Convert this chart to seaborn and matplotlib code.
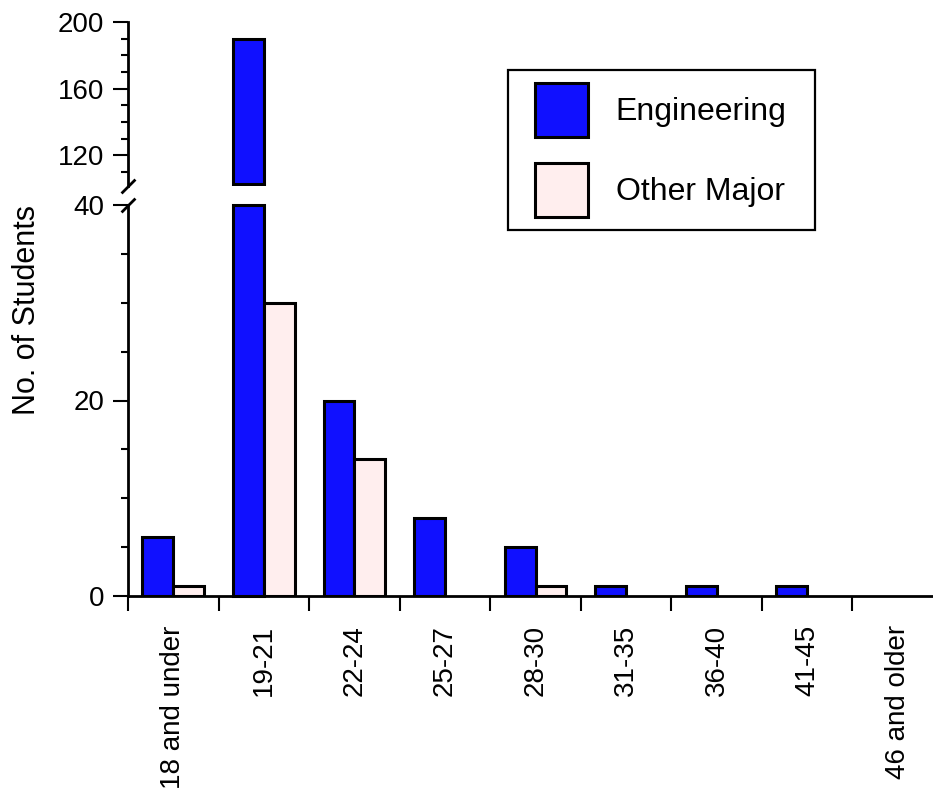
import matplotlib
matplotlib.use("Agg")
import matplotlib.pyplot as plt
import seaborn as sns
import pandas as pd
from matplotlib.ticker import MultipleLocator, FixedLocator
from matplotlib.patches import Patch, Rectangle

categories = ["18 and under", "19-21", "22-24", "25-27", "28-30",
              "31-35", "36-40", "41-45", "46 and older"]
engineering = [6, 190, 20, 8, 5, 1, 1, 1, 0]
other_major = [1, 30, 14, 0, 1, 0, 0, 0, 0]
series_names = ["Engineering", "Other Major"]
colors = {"Engineering": "#1010ff", "Other Major": "#ffeeee"}

df = pd.DataFrame({
    "Age": categories * 2,
    "Count": engineering + other_major,
    "Major": [series_names[0]] * len(categories) + [series_names[1]] * len(categories),
})

sns.set_style("ticks")
plt.rcParams["font.family"] = ["Liberation Sans", "DejaVu Sans"]
plt.rcParams["font.size"] = 20
for k in ("text.color", "axes.labelcolor", "xtick.color", "ytick.color",
          "axes.edgecolor"):
    plt.rcParams[k] = "black"

W, H = 933, 810
fig = plt.figure(figsize=(W / 100, H / 100), dpi=100)

left = 128 / W
width = 815 / W
ax_top = fig.add_axes([left, 1 - 186 / H, width, (186 - 22) / H])
ax_bot = fig.add_axes([left, 1 - 596 / H, width, (596 - 205) / H])

top_lo, top_hi = 101.5, 200
bot_lo, bot_hi = 0, 40

for ax in (ax_top, ax_bot):
    sns.barplot(data=df, x="Age", y="Count", hue="Major", order=categories,
                hue_order=series_names, palette=colors, width=0.68,
                edgecolor="black", linewidth=2.2, ax=ax, saturation=1,
                legend=False)
    ax.set_xlim(-0.5, 8.5)
    ax.set_xlabel("")
    ax.set_ylabel("")
    for s in ("top", "right"):
        ax.spines[s].set_visible(False)
    ax.spines["left"].set_linewidth(2)
    ax.spines["bottom"].set_linewidth(2)

# Upper axis
ax_top.set_ylim(top_lo, top_hi)
ax_top.spines["bottom"].set_visible(False)
ax_top.tick_params(axis="x", bottom=False, labelbottom=False)
ax_top.yaxis.set_major_locator(FixedLocator([120, 160, 200]))
ax_top.yaxis.set_minor_locator(FixedLocator([110, 130, 140, 150, 170, 180, 190]))
for p in ax_top.patches:
    h = p.get_height()
    if h > top_lo:
        p.set_y(top_lo + 1.0)
        p.set_height(h - top_lo - 1.0)
    else:
        p.set_visible(False)

# Lower axis
ax_bot.set_ylim(bot_lo, bot_hi)
ax_bot.yaxis.set_major_locator(FixedLocator([0, 20, 40]))
ax_bot.yaxis.set_minor_locator(MultipleLocator(5))
for p in ax_bot.patches:
    h = p.get_height()
    if h == 0:
        p.set_visible(False)
    elif h > bot_hi:
        p.set_height(bot_hi)
        p.set_clip_on(False)

for ax in (ax_top, ax_bot):
    ax.tick_params(axis="y", which="major", length=11, width=1.5, pad=6,
                   labelsize=20, direction="out", color="black")
    ax.tick_params(axis="y", which="minor", length=5, width=1.5,
                   direction="out", color="black")

ax_bot.set_xticks(range(len(categories)))
ax_bot.set_xticklabels(categories, rotation=90, va="top", ha="center")
ax_bot.xaxis.set_minor_locator(FixedLocator([i - 0.5 for i in range(len(categories) + 1)]))
ax_bot.tick_params(axis="x", which="major", length=0, pad=21, labelsize=20)
ax_bot.tick_params(axis="x", which="minor", length=11, width=1.5,
                   direction="out", color="black")

# Break marks
kw = dict(marker=[(-1, -1), (1, 1)], markersize=10, linestyle="none",
          color="black", mec="black", mew=2, clip_on=False)
ax_top.plot([0], [0], transform=ax_top.transAxes, **kw)
ax_bot.plot([0], [1], transform=ax_bot.transAxes, **kw)

# Legend
fs = 23
handles = [Patch(facecolor=colors[n], edgecolor="black", linewidth=2.2, label=n)
           for n in series_names]
leg = fig.legend(handles=handles, loc="upper left",
                 bbox_to_anchor=((508 + 14) / W, 1 - 70 / H), borderaxespad=0,
                 fontsize=fs, handlelength=1.68, handleheight=2.22,
                 handletextpad=0.85, labelspacing=0.82, borderpad=0.4,
                 frameon=False)
fig.canvas.draw()
bb = leg.get_window_extent()
frame = Rectangle((bb.x0 - 14, bb.y0), bb.width + 30, bb.height,
                  transform=None, facecolor="white", edgecolor="black",
                  linewidth=1.6, zorder=4)
fig.add_artist(frame)
leg.set_zorder(5)

fig.text(27 / W, 1 - 310 / H, "No. of Students", rotation=90,
         ha="center", va="center", fontsize=22)

fig.savefig("out.png", dpi=100)
